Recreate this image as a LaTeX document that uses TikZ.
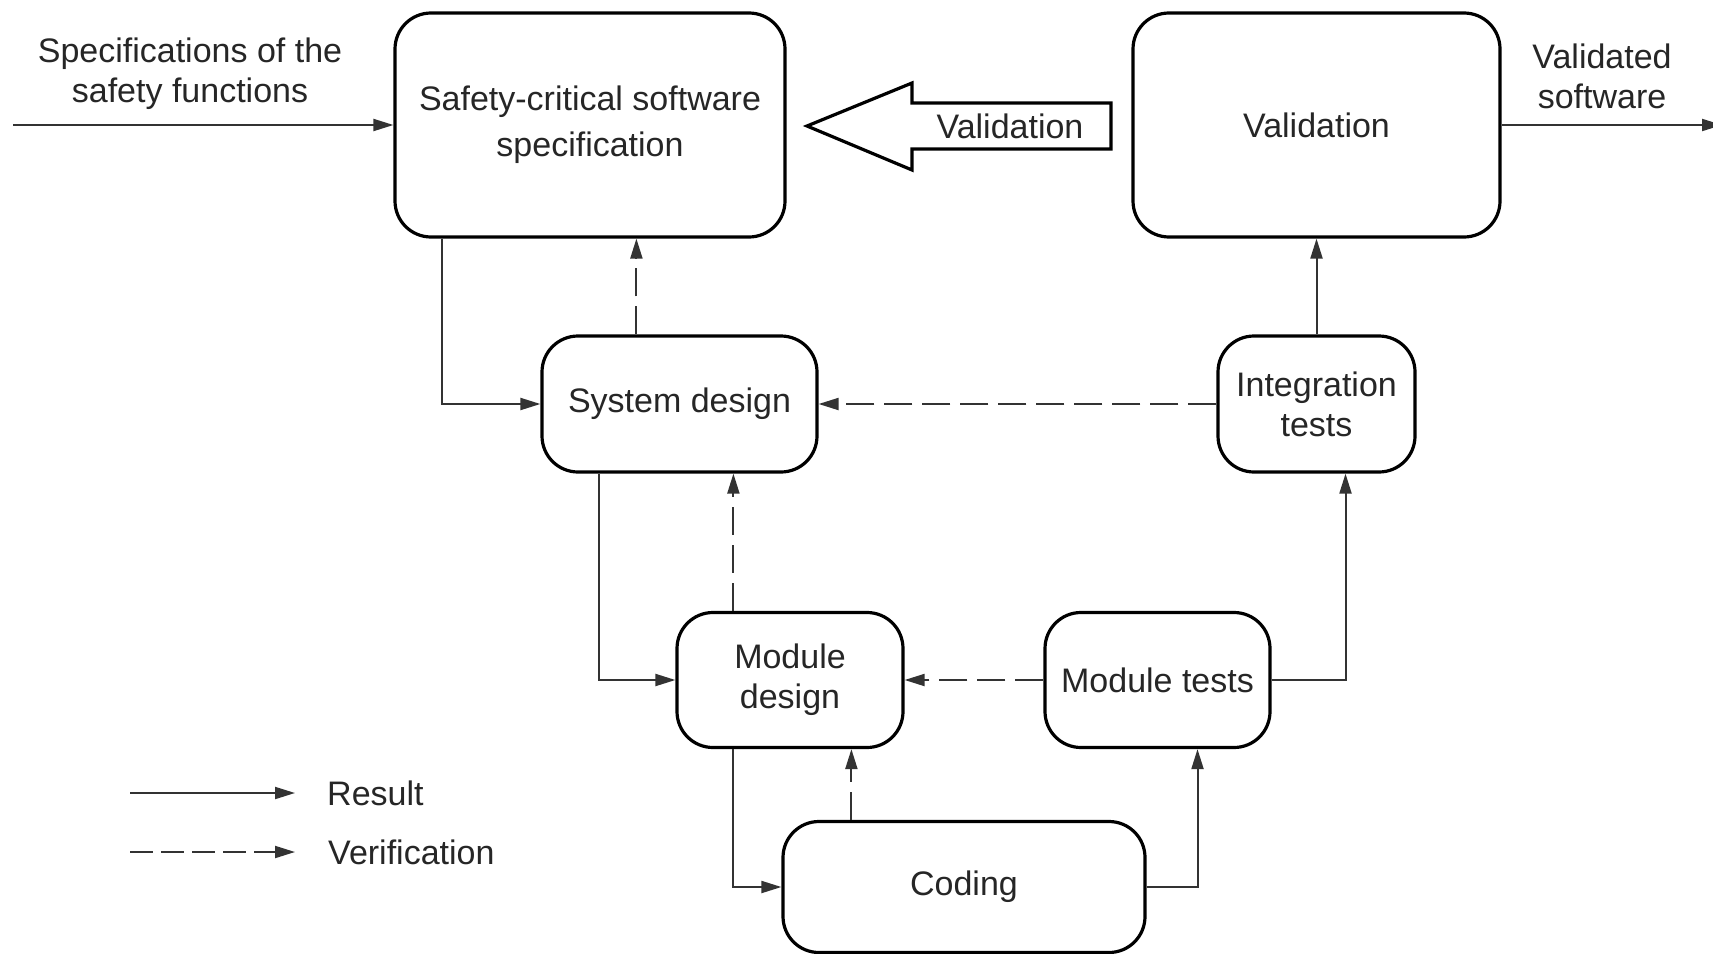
\documentclass[tikz,border=0pt]{standalone}
\usepackage{fontspec}
\setmainfont{Liberation Sans}
\usetikzlibrary{arrows.meta,calc}
\begin{document}
\begin{tikzpicture}[x=1pt,y=-1pt,
  box/.style={draw, line width=3.2pt, rounded corners=36pt, align=center, inner sep=0pt,
    font=\fontsize{34}{40}\selectfont, text=black!85},
  lbl/.style={align=center, inner sep=0pt, font=\fontsize{34}{40}\selectfont, text=black!85},
  res/.style={line width=2pt, draw=black!80, -{Triangle[length=20pt,width=12pt]}},
  ver/.style={res, dash pattern=on 28pt off 10pt}]
\useasboundingbox[fill=white] (0,0) rectangle (1713,953);

% boxes
\node[box, minimum width=390pt, minimum height=224pt, font=\fontsize{34}{46}\selectfont] (safety) at (590,125) {Safety-critical software\\specification};
\node[box, minimum width=367pt, minimum height=224pt] (valid) at (1316.5,125) {Validation};
\node[box, minimum width=275pt, minimum height=136pt] (sysd) at (679.5,404) {System design};
\node[box, minimum width=197pt, minimum height=136pt] (integ) at (1316.5,404) {Integration\\tests};
\node[box, minimum width=226pt, minimum height=135pt] (modd) at (790,680) {Module\\design};
\node[box, minimum width=225pt, minimum height=135pt] (modt) at (1157.5,680) {Module tests};
\node[box, minimum width=362pt, minimum height=131pt] (coding) at (964,887) {Coding};

% outside labels
\node[lbl] (spec) at (190,74) {Specifications of the\\safety functions};
\node[lbl] (vsw) at (1602,76) {Validated\\software};

% big validation arrow
\draw[line width=3.2pt, line join=miter] (807,126) -- (912,83) -- (912,103) -- (1111,103) -- (1111,149) -- (912,149) -- (912,170) -- cycle;
\node[lbl] (valarrow) at (1010,126) {Validation};

% input / output
\coordinate (in) at (13,125);
\coordinate (out) at (1722,125);
\draw[res] (in) -- (safety.west);
\draw[res] (valid.east) -- (out);

% result connectors
\draw[res] ([xshift=49pt]safety.south west) |- (sysd.west);
\draw[res] ([xshift=59pt]sysd.south west) |- (modd.west);
\draw[res] ([xshift=58pt]modd.south west) |- (coding.west);
\draw[res] (coding.east) -| ([xshift=40pt]modt.south);
\draw[res] (modt.east) -| ([xshift=29pt]integ.south);
\draw[res] (integ.north) -- (valid.south);

% verification connectors
\draw[ver] ([xshift=70pt]coding.north west) -- ([xshift=70pt]coding.north west |- modd.south);
\draw[ver] ([xshift=58pt]modd.north west) -- ([xshift=58pt]modd.north west |- sysd.south);
\draw[ver] ([xshift=96pt]sysd.north west) -- ([xshift=96pt]sysd.north west |- safety.south);
\draw[ver] (modt.west) -- (modd.east);
\draw[ver] (integ.west) -- (sysd.east);

% legend
\coordinate (l1a) at (130,793);
\coordinate (l1b) at (295,793);
\coordinate (l2a) at (130,852);
\coordinate (l2b) at (295,852);
\draw[res] (l1a) -- (l1b);
\draw[ver, dash pattern=on 23pt off 8pt] (l2a) -- (l2b);
\node[lbl, anchor=west] (lres) at (327,793) {Result};
\node[lbl, anchor=west] (lver) at (328,852) {Verification};
\end{tikzpicture}
\end{document}
